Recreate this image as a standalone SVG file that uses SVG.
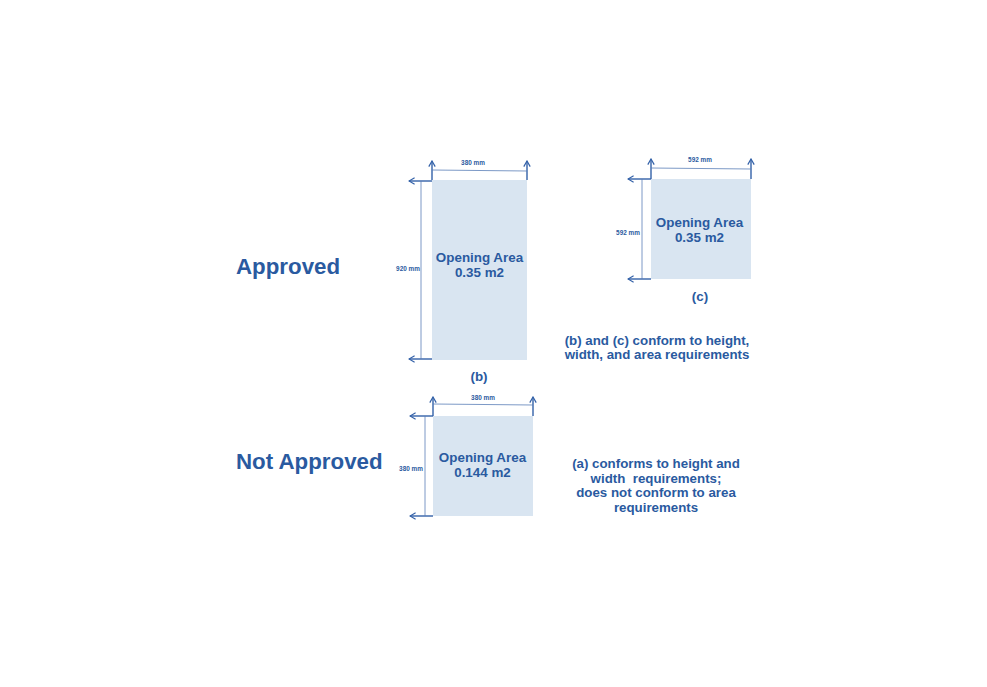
<svg xmlns="http://www.w3.org/2000/svg" width="987" height="687" viewBox="0 0 987 687">
<style>
.t{font-family:"Liberation Sans",Arial,sans-serif;font-weight:bold;fill:#2a5aa0}
.big{font-size:22.3px}
.lbl{font-size:13.4px;text-anchor:middle}
.desc{font-size:13.3px;text-anchor:middle}
.dim{font-size:6.4px;text-anchor:middle}
.area{fill:#d9e5f1}
.arr{fill:none;stroke:#3361a8;stroke-width:1.4;marker-end:url(#ah)}
.thin{fill:none;stroke:#5b7fb8;stroke-width:0.8}
</style>
<defs>
<marker id="ah" viewBox="0 0 10 10" refX="9" refY="5" markerWidth="8" markerHeight="8" orient="auto" markerUnits="userSpaceOnUse">
<path d="M2,1 L9,5 L2,9" fill="none" stroke="#3361a8" stroke-width="1.5"/>
</marker>
</defs>
<rect width="987" height="687" fill="#fff"/>
<text class="t big" x="236" y="274">Approved</text>
<text class="t big" x="236" y="469">Not Approved</text>
<g id="node-b">
<rect class="area" x="432" y="180" width="95" height="180"/>
<text class="t lbl" x="479.5" y="262">Opening Area</text>
<text class="t lbl" x="479.5" y="277">0.35 m2</text>
<text class="t lbl" x="479" y="381">(b)</text>
<text class="t dim" x="473" y="165">380 mm</text>
<text class="t dim" x="408" y="271">920 mm</text>
</g>
<g id="node-c">
<rect class="area" x="651" y="179" width="100" height="100"/>
<text class="t lbl" x="699.5" y="227">Opening Area</text>
<text class="t lbl" x="699.5" y="242">0.35 m2</text>
<text class="t lbl" x="700" y="301">(c)</text>
<text class="t dim" x="700" y="162">592 mm</text>
<text class="t dim" x="628" y="235">592 mm</text>
</g>
<g id="node-a">
<rect class="area" x="433" y="416" width="100" height="100"/>
<text class="t lbl" x="482.5" y="462">Opening Area</text>
<text class="t lbl" x="482.5" y="477">0.144 m2</text>
<text class="t dim" x="483" y="400">380 mm</text>
<text class="t dim" x="411" y="471">380 mm</text>
</g>
<g id="desc">
<text class="t desc" x="657" y="345">(b) and (c) conform to height,</text>
<text class="t desc" x="657" y="359">width, and area requirements</text>
<text class="t desc" x="656" y="468">(a) conforms to height and</text>
<text class="t desc" x="656" y="483" xml:space="preserve">width  requirements;</text>
<text class="t desc" x="656" y="497">does not conform to area</text>
<text class="t desc" x="656" y="512">requirements</text>
</g>
<g id="connectors">
<path class="arr" d="M432,180 V161"/>
<path class="arr" d="M527,180 V161"/>
<path class="thin" d="M432,170 L527,171"/>
<path class="arr" d="M432,181 H409"/>
<path class="arr" d="M432,359 H409"/>
<path class="thin" d="M421,181 V359"/>
<path class="arr" d="M651,179 V159"/>
<path class="arr" d="M751,179 V159"/>
<path class="thin" d="M651,168 L751,169"/>
<path class="arr" d="M651,179 H628"/>
<path class="arr" d="M651,279 H628"/>
<path class="thin" d="M642,179 V279"/>
<path class="arr" d="M433,416 V397"/>
<path class="arr" d="M533,416 V397"/>
<path class="thin" d="M433,404 L533,405"/>
<path class="arr" d="M433,416 H410"/>
<path class="arr" d="M433,516 H410"/>
<path class="thin" d="M425,416 V516"/>
</g>
</svg>
